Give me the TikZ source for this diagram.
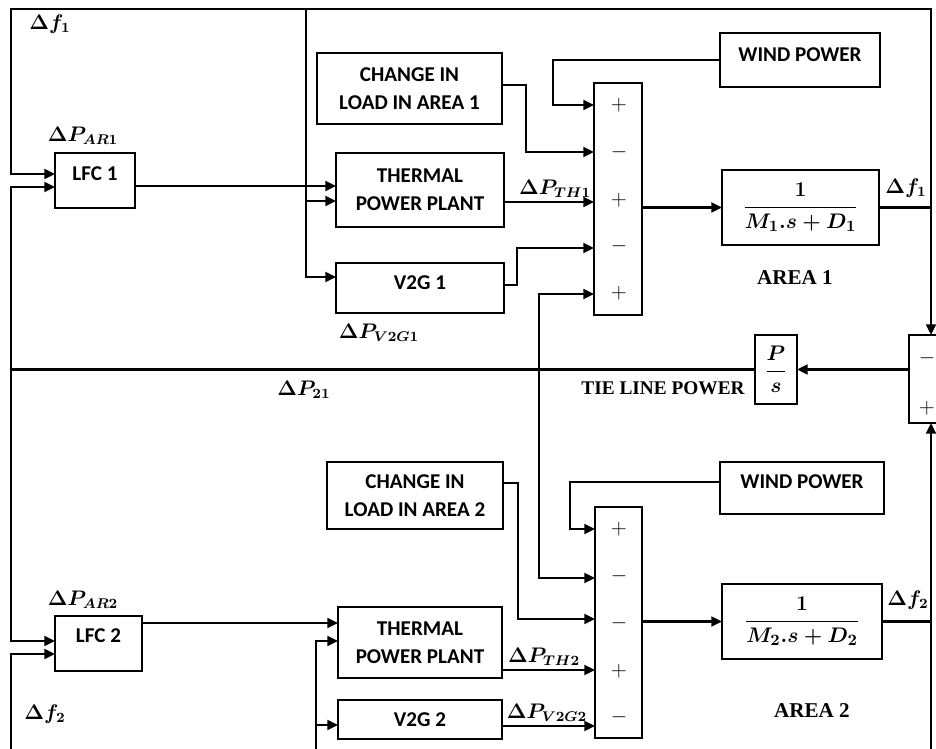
\documentclass[tikz,border=0pt]{standalone}
\usepackage[no-math]{fontspec}
\setmainfont{Carlito}
\newfontfamily\serifb{Liberation Serif}
\usepackage{amsmath}
\usetikzlibrary{arrows.meta}
\begin{document}
\begin{tikzpicture}[x=0.02cm,y=-0.02cm,
 ln/.style={line width=1.5pt},
 box/.style={draw, line width=1.5pt, fill=white, inner sep=0pt, outer sep=0pt, align=center, font=\bfseries\fontsize{12}{16}\selectfont},
 sz/.style 2 args={minimum width=#1*0.02cm, minimum height=#2*0.02cm},
 bt/.style={font=\bfseries\fontsize{12}{16}\selectfont, inner sep=0pt},
 arr/.style={ln, -{Triangle[length=6pt,width=5.5pt]}},
 lbl/.style={font=\fontsize{12}{14}\selectfont\boldmath, inner sep=0pt},
 frc/.style={font=\fontsize{12.5}{14}\selectfont\boldmath},
 sgn/.style={font=\fontsize{13}{13}\selectfont, inner sep=0pt},
 ser/.style={font=\serifb\bfseries\fontsize{12}{14}\selectfont, inner sep=0pt}]
\fill[white] (0,0) rectangle (936,749);
\useasboundingbox (0,0) rectangle (936,749);
\clip (0,0) rectangle (936,749);

% ---------- boxes ----------
\node[box, sz={80}{55}] (lfc1) at (95,180.5) {};
\node[box, sz={185}{71}] (chg1) at (409.5,88.5) {CHANGE IN\\LOAD IN AREA 1};
\node[box, sz={168}{74}] (th1) at (420,190) {THERMAL\\POWER PLANT};
\node[box, sz={168}{50}] (v2g1) at (420,288) {};
\node[box, sz={48}{232}] (sum1) at (618,199) {};
\node[box, sz={160}{54}] (wind1) at (800,60) {};
\node[box, frc, sz={157}{75}] (g1) at (800.5,207.5) {$\dfrac{1}{M_1.s + D_1}$};
\node[box, frc, sz={42}{69}] (ps) at (776,369.5) {$\dfrac{P}{s}$};
\node[box, sz={44}{88}] (tsum) at (931,379) {};
\node[box, sz={176}{67}] (chg2) at (415,495.5) {CHANGE IN\\LOAD IN AREA 2};
\node[box, sz={164}{52}] (wind2) at (802,488) {};
\node[box, sz={47}{231}] (sum2) at (618.5,622.5) {};
\node[box, frc, sz={160}{75}] (g2) at (802,621.5) {$\dfrac{1}{M_2.s + D_2}$};
\node[box, sz={164}{71}] (th2) at (420,642.5) {THERMAL\\POWER PLANT};
\node[box, sz={164}{39}] (v2g2) at (420,719.5) {};
\node[box, sz={87}{55}] (lfc2) at (98.5,643.5) {};

% box texts placed high
\node[bt] (tlfc1) at (95,174) {LFC 1};
\node[bt] (tv2g1) at (420,283) {V2G 1};
\node[bt] (twind1) at (800,55) {WIND POWER};
\node[bt] (tlfc2) at (98.5,636) {LFC 2};
\node[bt] (tv2g2) at (420,720) {V2G 2};
\node[bt] (twind2) at (802,482) {WIND POWER};

% signs
\node[sgn] (s11) at (619,105) {$+$};
\node[sgn] (s12) at (619,152) {$-$};
\node[sgn] (s13) at (619,200) {$+$};
\node[sgn] (s14) at (619,246) {$-$};
\node[sgn] (s15) at (619,293) {$+$};
\node[sgn] (s21) at (619,529) {$+$};
\node[sgn] (s22) at (619,576) {$-$};
\node[sgn] (s23) at (619,623) {$-$};
\node[sgn] (s24) at (619,671) {$+$};
\node[sgn] (s25) at (619,717) {$-$};
\node[sgn] (st1) at (927,358) {$-$};
\node[sgn] (st2) at (927,408) {$+$};

% labels
\node[lbl] (lf1a) at (50,24) {$\Delta f_1$};
\node[lbl] (lar1) at (83,136) {$\Delta P_{AR1}$};
\node[lbl] (lth1) at (555,189) {$\Delta P_{TH1}$};
\node[lbl] (lv1) at (379,333) {$\Delta P_{V2G1}$};
\node[lbl] (l21) at (304,390) {$\Delta P_{21}$};
\node[lbl] (lf1b) at (906,188) {$\Delta f_1$};
\node[lbl] (lar2) at (83,600) {$\Delta P_{AR2}$};
\node[lbl] (lf2a) at (45,714) {$\Delta f_2$};
\node[lbl] (lth2) at (544,657) {$\Delta P_{TH2}$};
\node[lbl] (lv2) at (547,713) {$\Delta P_{V2G2}$};
\node[lbl] (lf2b) at (908,600) {$\Delta f_2$};
\node[ser] (ar1) at (795,278) {AREA 1};
\node[ser, font=\serifb\bfseries\fontsize{11}{13}\selectfont] (tie) at (663,388) {TIE LINE POWER};
\node[ser] (ar2) at (812,711) {AREA 2};

% ---------- coordinates ----------
\coordinate (j1) at (931,207.5);
\coordinate (tl) at (11,9);
\coordinate (tm) at (306,9);
\coordinate (b1) at (306,201);
\coordinate (jl) at (11,369.5);
\coordinate (jm) at (539,369.5);
\coordinate (j2) at (931,621.5);
\coordinate (br) at (931,770);
\coordinate (bl) at (11,770);
\coordinate (bm) at (316,770);

% ---------- area 1 ----------
\draw[ln] (g1.east) -- (j1);
\draw[arr] (j1) -- (tsum.north);
\draw[arr] (j1) |- (tl) |- (lfc1.west |- 0,174);
\draw[arr] (tm) |- (v2g1.west |- 0,277);
\draw[arr] (b1) -- (th1.west |- b1);
\draw[arr] (lfc1.east |- 0,186) -- (th1.west |- 0,186);
\draw[arr] (wind1.west) -- (553,60) |- (sum1.west |- 0,105);
\draw[arr] (chg1.east |- 0,85) -- (526,85) |- (sum1.west |- 0,152);
\draw[arr] (th1.east |- 0,202) -- (sum1.west |- 0,202);
\draw[arr] (v2g1.east |- 0,285) -- (517,285) |- (sum1.west |- 0,248);
\draw[arr] (sum1.east |- g1.west) -- (g1.west);

% ---------- tie line ----------
\draw[arr] (tsum.west |- ps.east) -- (ps.east);
\draw[ln] (ps.west) -- (jl);
\draw[arr] (jl) |- (lfc1.west |- 0,187);
\draw[arr] (jl) |- (lfc2.west |- 0,641);
\draw[arr] (jm) |- (sum1.west |- 0,294);
\draw[arr] (jm) |- (sum2.west |- 0,578);

% ---------- area 2 ----------
\draw[ln] (g2.east) -- (j2);
\draw[arr] (br) -- (tsum.south);
\draw[arr] (bl) |- (lfc2.west |- 0,654);
\draw[arr] (bm) |- (th2.west |- 0,641);
\draw[arr] (bm) |- (v2g2.west |- 0,725);
\draw[arr] (lfc2.east |- 0,623) -- (th2.west |- 0,623);
\draw[arr] (wind2.west |- 0,482) -- (570,482) |- (sum2.west |- 0,529);
\draw[arr] (chg2.east |- 0,483) -- (518,483) |- (sum2.west |- 0,619);
\draw[arr] (th2.east |- 0,670) -- (sum2.west |- 0,670);
\draw[arr] (v2g2.east |- 0,726) -- (sum2.west |- 0,726);
\draw[arr] (sum2.east |- g2.west) -- (g2.west);
\end{tikzpicture}
\end{document}
